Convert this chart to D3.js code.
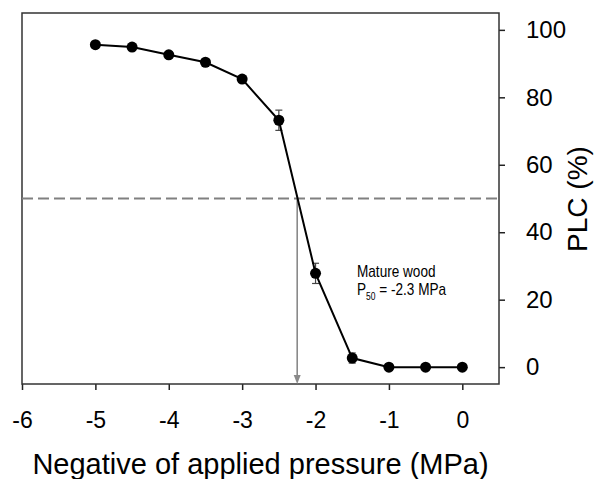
<!DOCTYPE html>
<html>
<head>
<meta charset="utf-8">
<script src="https://cdn.jsdelivr.net/npm/d3@7/dist/d3.min.js"></script>
<style>
  body { margin: 0; background: #fff; }
  svg text { font-family: "Liberation Sans", Arial, sans-serif; fill: #000; }
</style>
</head>
<body>
<div id="chart"></div>
<script>
// pressure (MPa, negative) vs percent loss of conductivity
const pressure = [-5, -4.5, -4, -3.5, -3, -2.5, -2, -1.5, -1, -0.5, 0];
const plc = [95.6, 94.9, 92.6, 90.4, 85.4, 73.2, 27.8, 2.7, 0, 0, 0];
const plcErr = [0.5, 0.5, 0.5, 0.5, 0.8, 3, 3, 1.5, 0.3, 0.3, 0.3];
const xTicks = [-6, -5, -4, -3, -2, -1, 0];
const yTicks = [0, 20, 40, 60, 80, 100];
const p50 = -2.25;
const plcRef = 50;

const W = 596, H = 479;
const margin = { top: 13, right: 97, bottom: 95, left: 22 };
const width = W - margin.left - margin.right;
const height = H - margin.top - margin.bottom;

const svg = d3.select('#chart').append('svg')
  .attr('width', W)
  .attr('height', H);
const g = svg.append('g')
  .attr('transform', `translate(${margin.left},${margin.top})`);

const x = d3.scaleLinear().domain([-6, 0.5]).range([0, width]);
const y = d3.scaleLinear().domain([-5, 105]).range([height, 0]);

// axes (plain hyphen for negatives, like the original)
const xAxis = g.append('g')
  .attr('transform', `translate(0,${height})`)
  .call(d3.axisBottom(x).tickValues(xTicks).tickSize(6).tickPadding(22).tickFormat(d => String(d)));
xAxis.selectAll('text').attr('font-size', 23).style('font-family', '"Liberation Sans", Arial, sans-serif');

const yAxis = g.append('g')
  .attr('transform', `translate(${width},0)`)
  .call(d3.axisRight(y).tickValues(yTicks).tickSize(6).tickPadding(21));
yAxis.selectAll('text').attr('font-size', 24).style('font-family', '"Liberation Sans", Arial, sans-serif');

[xAxis, yAxis].forEach(a => {
  a.select('.domain').remove();
  a.selectAll('line').attr('stroke', '#222').attr('stroke-width', 1.5);
});

// frame
g.append('rect')
  .attr('x', 0).attr('y', 0)
  .attr('width', width).attr('height', height)
  .attr('fill', 'none')
  .attr('stroke', '#333')
  .attr('stroke-width', 1.5);

// 50% reference line
g.append('line')
  .attr('x1', x(-6)).attr('x2', x(0.5))
  .attr('y1', y(plcRef)).attr('y2', y(plcRef))
  .attr('stroke', '#808080')
  .attr('stroke-width', 2)
  .attr('stroke-dasharray', '11,5');

// arrow down to P50
g.append('line')
  .attr('x1', x(p50)).attr('x2', x(p50))
  .attr('y1', y(plcRef)).attr('y2', height - 6)
  .attr('stroke', '#8a8a8a')
  .attr('stroke-width', 1.6);
g.append('path')
  .attr('d', `M${x(p50) - 3.5},${height - 9} L${x(p50) + 3.5},${height - 9} L${x(p50)},${height} Z`)
  .attr('fill', '#8a8a8a');

const data = pressure.map((p, i) => ({ p, v: plc[i], e: plcErr[i] }));

// error bars
const eb = g.append('g').attr('stroke', '#444').attr('stroke-width', 1.2);
data.forEach(d => {
  eb.append('line')
    .attr('x1', x(d.p)).attr('x2', x(d.p))
    .attr('y1', y(d.v - d.e)).attr('y2', y(d.v + d.e));
  [d.v - d.e, d.v + d.e].forEach(v => {
    eb.append('line')
      .attr('x1', x(d.p) - 3.5).attr('x2', x(d.p) + 3.5)
      .attr('y1', y(v)).attr('y2', y(v));
  });
});

// curve
g.append('path')
  .datum(data)
  .attr('fill', 'none')
  .attr('stroke', '#000')
  .attr('stroke-width', 2)
  .attr('d', d3.line().x(d => x(d.p)).y(d => y(d.v)));

g.selectAll('circle.pt')
  .data(data)
  .enter()
  .append('circle')
    .attr('class', 'pt')
    .attr('cx', d => x(d.p))
    .attr('cy', d => y(d.v))
    .attr('r', 5.5)
    .attr('fill', '#000');

// annotation, squeezed horizontally to mimic a narrow face
const annG = g.append('g')
  .attr('transform', 'translate(335,0) scale(0.85,1)');
annG.append('text')
  .attr('x', 0)
  .attr('y', 264)
  .attr('font-size', 16)
  .text('Mature wood');
const ann2 = annG.append('text')
  .attr('x', 0)
  .attr('y', 282)
  .attr('font-size', 16);
ann2.append('tspan').text('P');
ann2.append('tspan').attr('font-size', 10).attr('dy', 5).text('50');
ann2.append('tspan').attr('dy', -5).text(' = -2.3 MPa');

// axis titles
svg.append('text')
  .attr('x', margin.left + width / 2)
  .attr('y', 474)
  .attr('text-anchor', 'middle')
  .attr('font-size', 29)
  .text('Negative of applied pressure (MPa)');

svg.append('text')
  .attr('transform', 'translate(587,199) rotate(-90)')
  .attr('text-anchor', 'middle')
  .attr('font-size', 28)
  .text('PLC (%)');
</script>
</body>
</html>
